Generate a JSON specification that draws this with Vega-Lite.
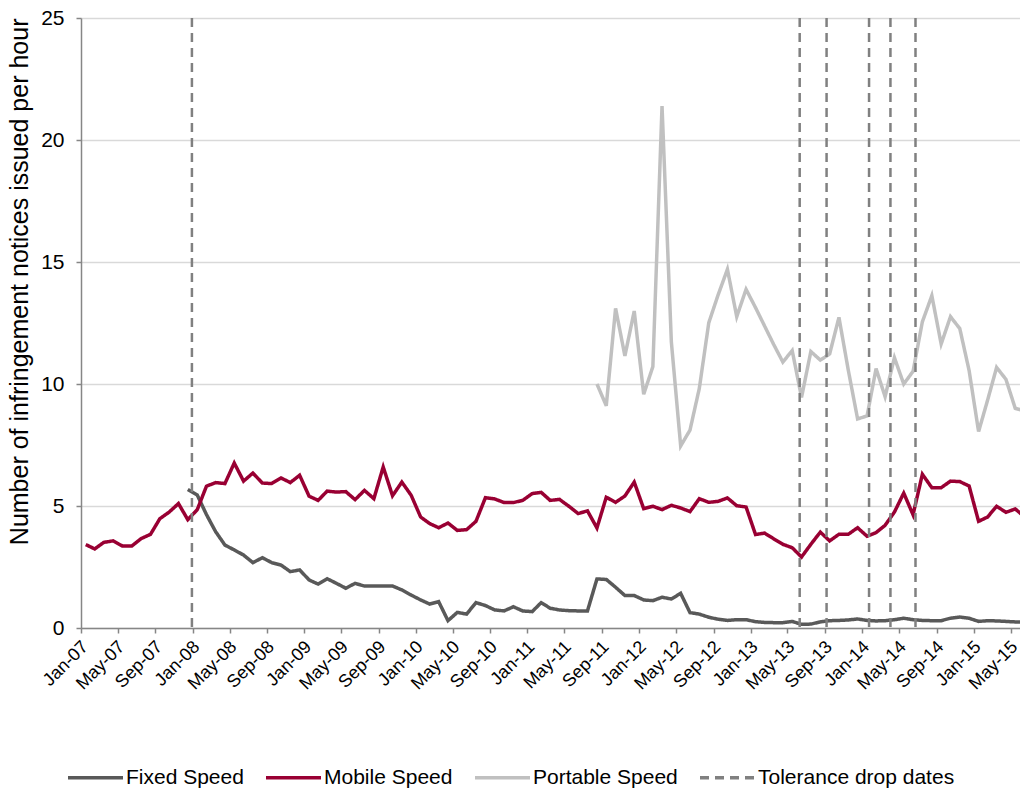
{
  "$schema": "https://vega.github.io/schema/vega-lite/v6.json",
  "width": 939,
  "height": 610,
  "autosize": "none",
  "padding": {"left": 81, "top": 18, "right": 0, "bottom": 164},
  "background": "white",
  "config": {
    "font": "Liberation Sans",
    "view": {"stroke": null},
    "axis": {"labelColor": "#000000", "titleColor": "#000000", "domainColor": "#868686", "tickColor": "#868686", "domainWidth": 1.5, "tickWidth": 1.5, "tickSize": 5}
  },
  "datasets": {
    "lines": [
      {"series":"Fixed Speed","date":"2007-12-01","value":5.68},
      {"series":"Fixed Speed","date":"2008-01-01","value":5.45},{"series":"Fixed Speed","date":"2008-02-01","value":4.65},{"series":"Fixed Speed","date":"2008-03-01","value":3.95},{"series":"Fixed Speed","date":"2008-04-01","value":3.40},{"series":"Fixed Speed","date":"2008-05-01","value":3.20},{"series":"Fixed Speed","date":"2008-06-01","value":2.99},{"series":"Fixed Speed","date":"2008-07-01","value":2.68},{"series":"Fixed Speed","date":"2008-08-01","value":2.88},{"series":"Fixed Speed","date":"2008-09-01","value":2.68},{"series":"Fixed Speed","date":"2008-10-01","value":2.58},{"series":"Fixed Speed","date":"2008-11-01","value":2.31},{"series":"Fixed Speed","date":"2008-12-01","value":2.38},
      {"series":"Fixed Speed","date":"2009-01-01","value":1.97},{"series":"Fixed Speed","date":"2009-02-01","value":1.80},{"series":"Fixed Speed","date":"2009-03-01","value":2.02},{"series":"Fixed Speed","date":"2009-04-01","value":1.83},{"series":"Fixed Speed","date":"2009-05-01","value":1.63},{"series":"Fixed Speed","date":"2009-06-01","value":1.83},{"series":"Fixed Speed","date":"2009-07-01","value":1.72},{"series":"Fixed Speed","date":"2009-08-01","value":1.72},{"series":"Fixed Speed","date":"2009-09-01","value":1.72},{"series":"Fixed Speed","date":"2009-10-01","value":1.72},{"series":"Fixed Speed","date":"2009-11-01","value":1.56},{"series":"Fixed Speed","date":"2009-12-01","value":1.35},
      {"series":"Fixed Speed","date":"2010-01-01","value":1.15},{"series":"Fixed Speed","date":"2010-02-01","value":0.98},{"series":"Fixed Speed","date":"2010-03-01","value":1.08},{"series":"Fixed Speed","date":"2010-04-01","value":0.30},{"series":"Fixed Speed","date":"2010-05-01","value":0.64},{"series":"Fixed Speed","date":"2010-06-01","value":0.57},{"series":"Fixed Speed","date":"2010-07-01","value":1.04},{"series":"Fixed Speed","date":"2010-08-01","value":0.92},{"series":"Fixed Speed","date":"2010-09-01","value":0.74},{"series":"Fixed Speed","date":"2010-10-01","value":0.70},{"series":"Fixed Speed","date":"2010-11-01","value":0.87},{"series":"Fixed Speed","date":"2010-12-01","value":0.70},
      {"series":"Fixed Speed","date":"2011-01-01","value":0.67},{"series":"Fixed Speed","date":"2011-02-01","value":1.04},{"series":"Fixed Speed","date":"2011-03-01","value":0.81},{"series":"Fixed Speed","date":"2011-04-01","value":0.74},{"series":"Fixed Speed","date":"2011-05-01","value":0.71},{"series":"Fixed Speed","date":"2011-06-01","value":0.70},{"series":"Fixed Speed","date":"2011-07-01","value":0.70},{"series":"Fixed Speed","date":"2011-08-01","value":2.01},{"series":"Fixed Speed","date":"2011-09-01","value":1.99},{"series":"Fixed Speed","date":"2011-10-01","value":1.67},{"series":"Fixed Speed","date":"2011-11-01","value":1.33},{"series":"Fixed Speed","date":"2011-12-01","value":1.33},
      {"series":"Fixed Speed","date":"2012-01-01","value":1.15},{"series":"Fixed Speed","date":"2012-02-01","value":1.12},{"series":"Fixed Speed","date":"2012-03-01","value":1.26},{"series":"Fixed Speed","date":"2012-04-01","value":1.19},{"series":"Fixed Speed","date":"2012-05-01","value":1.42},{"series":"Fixed Speed","date":"2012-06-01","value":0.63},{"series":"Fixed Speed","date":"2012-07-01","value":0.57},{"series":"Fixed Speed","date":"2012-08-01","value":0.44},{"series":"Fixed Speed","date":"2012-09-01","value":0.36},{"series":"Fixed Speed","date":"2012-10-01","value":0.31},{"series":"Fixed Speed","date":"2012-11-01","value":0.34},{"series":"Fixed Speed","date":"2012-12-01","value":0.34},
      {"series":"Fixed Speed","date":"2013-01-01","value":0.26},{"series":"Fixed Speed","date":"2013-02-01","value":0.23},{"series":"Fixed Speed","date":"2013-03-01","value":0.22},{"series":"Fixed Speed","date":"2013-04-01","value":0.22},{"series":"Fixed Speed","date":"2013-05-01","value":0.27},{"series":"Fixed Speed","date":"2013-06-01","value":0.15},{"series":"Fixed Speed","date":"2013-07-01","value":0.16},{"series":"Fixed Speed","date":"2013-08-01","value":0.25},{"series":"Fixed Speed","date":"2013-09-01","value":0.30},{"series":"Fixed Speed","date":"2013-10-01","value":0.31},{"series":"Fixed Speed","date":"2013-11-01","value":0.33},{"series":"Fixed Speed","date":"2013-12-01","value":0.37},
      {"series":"Fixed Speed","date":"2014-01-01","value":0.31},{"series":"Fixed Speed","date":"2014-02-01","value":0.29},{"series":"Fixed Speed","date":"2014-03-01","value":0.30},{"series":"Fixed Speed","date":"2014-04-01","value":0.34},{"series":"Fixed Speed","date":"2014-05-01","value":0.40},{"series":"Fixed Speed","date":"2014-06-01","value":0.34},{"series":"Fixed Speed","date":"2014-07-01","value":0.31},{"series":"Fixed Speed","date":"2014-08-01","value":0.30},{"series":"Fixed Speed","date":"2014-09-01","value":0.30},{"series":"Fixed Speed","date":"2014-10-01","value":0.40},{"series":"Fixed Speed","date":"2014-11-01","value":0.45},{"series":"Fixed Speed","date":"2014-12-01","value":0.40},
      {"series":"Fixed Speed","date":"2015-01-01","value":0.27},{"series":"Fixed Speed","date":"2015-02-01","value":0.30},{"series":"Fixed Speed","date":"2015-03-01","value":0.29},{"series":"Fixed Speed","date":"2015-04-01","value":0.27},{"series":"Fixed Speed","date":"2015-05-01","value":0.25},{"series":"Fixed Speed","date":"2015-06-01","value":0.25},

      {"series":"Mobile Speed","date":"2007-01-01","value":3.42},{"series":"Mobile Speed","date":"2007-02-01","value":3.24},{"series":"Mobile Speed","date":"2007-03-01","value":3.51},{"series":"Mobile Speed","date":"2007-04-01","value":3.57},{"series":"Mobile Speed","date":"2007-05-01","value":3.36},{"series":"Mobile Speed","date":"2007-06-01","value":3.36},{"series":"Mobile Speed","date":"2007-07-01","value":3.66},{"series":"Mobile Speed","date":"2007-08-01","value":3.84},{"series":"Mobile Speed","date":"2007-09-01","value":4.48},{"series":"Mobile Speed","date":"2007-10-01","value":4.75},{"series":"Mobile Speed","date":"2007-11-01","value":5.10},{"series":"Mobile Speed","date":"2007-12-01","value":4.44},
      {"series":"Mobile Speed","date":"2008-01-01","value":4.85},{"series":"Mobile Speed","date":"2008-02-01","value":5.81},{"series":"Mobile Speed","date":"2008-03-01","value":5.96},{"series":"Mobile Speed","date":"2008-04-01","value":5.92},{"series":"Mobile Speed","date":"2008-05-01","value":6.76},{"series":"Mobile Speed","date":"2008-06-01","value":6.02},{"series":"Mobile Speed","date":"2008-07-01","value":6.35},{"series":"Mobile Speed","date":"2008-08-01","value":5.94},{"series":"Mobile Speed","date":"2008-09-01","value":5.92},{"series":"Mobile Speed","date":"2008-10-01","value":6.15},{"series":"Mobile Speed","date":"2008-11-01","value":5.96},{"series":"Mobile Speed","date":"2008-12-01","value":6.26},
      {"series":"Mobile Speed","date":"2009-01-01","value":5.40},{"series":"Mobile Speed","date":"2009-02-01","value":5.23},{"series":"Mobile Speed","date":"2009-03-01","value":5.61},{"series":"Mobile Speed","date":"2009-04-01","value":5.57},{"series":"Mobile Speed","date":"2009-05-01","value":5.59},{"series":"Mobile Speed","date":"2009-06-01","value":5.26},{"series":"Mobile Speed","date":"2009-07-01","value":5.64},{"series":"Mobile Speed","date":"2009-08-01","value":5.30},{"series":"Mobile Speed","date":"2009-09-01","value":6.60},{"series":"Mobile Speed","date":"2009-10-01","value":5.42},{"series":"Mobile Speed","date":"2009-11-01","value":5.98},{"series":"Mobile Speed","date":"2009-12-01","value":5.44},
      {"series":"Mobile Speed","date":"2010-01-01","value":4.55},{"series":"Mobile Speed","date":"2010-02-01","value":4.28},{"series":"Mobile Speed","date":"2010-03-01","value":4.11},{"series":"Mobile Speed","date":"2010-04-01","value":4.30},{"series":"Mobile Speed","date":"2010-05-01","value":4.00},{"series":"Mobile Speed","date":"2010-06-01","value":4.03},{"series":"Mobile Speed","date":"2010-07-01","value":4.37},{"series":"Mobile Speed","date":"2010-08-01","value":5.34},{"series":"Mobile Speed","date":"2010-09-01","value":5.29},{"series":"Mobile Speed","date":"2010-10-01","value":5.14},{"series":"Mobile Speed","date":"2010-11-01","value":5.14},{"series":"Mobile Speed","date":"2010-12-01","value":5.23},
      {"series":"Mobile Speed","date":"2011-01-01","value":5.51},{"series":"Mobile Speed","date":"2011-02-01","value":5.56},{"series":"Mobile Speed","date":"2011-03-01","value":5.23},{"series":"Mobile Speed","date":"2011-04-01","value":5.27},{"series":"Mobile Speed","date":"2011-05-01","value":4.99},{"series":"Mobile Speed","date":"2011-06-01","value":4.69},{"series":"Mobile Speed","date":"2011-07-01","value":4.80},{"series":"Mobile Speed","date":"2011-08-01","value":4.10},{"series":"Mobile Speed","date":"2011-09-01","value":5.36},{"series":"Mobile Speed","date":"2011-10-01","value":5.15},{"series":"Mobile Speed","date":"2011-11-01","value":5.41},{"series":"Mobile Speed","date":"2011-12-01","value":5.98},
      {"series":"Mobile Speed","date":"2012-01-01","value":4.89},{"series":"Mobile Speed","date":"2012-02-01","value":4.99},{"series":"Mobile Speed","date":"2012-03-01","value":4.85},{"series":"Mobile Speed","date":"2012-04-01","value":5.03},{"series":"Mobile Speed","date":"2012-05-01","value":4.92},{"series":"Mobile Speed","date":"2012-06-01","value":4.77},{"series":"Mobile Speed","date":"2012-07-01","value":5.30},{"series":"Mobile Speed","date":"2012-08-01","value":5.15},{"series":"Mobile Speed","date":"2012-09-01","value":5.19},{"series":"Mobile Speed","date":"2012-10-01","value":5.33},{"series":"Mobile Speed","date":"2012-11-01","value":5.01},{"series":"Mobile Speed","date":"2012-12-01","value":4.96},
      {"series":"Mobile Speed","date":"2013-01-01","value":3.83},{"series":"Mobile Speed","date":"2013-02-01","value":3.89},{"series":"Mobile Speed","date":"2013-03-01","value":3.66},{"series":"Mobile Speed","date":"2013-04-01","value":3.43},{"series":"Mobile Speed","date":"2013-05-01","value":3.29},{"series":"Mobile Speed","date":"2013-06-01","value":2.91},{"series":"Mobile Speed","date":"2013-07-01","value":3.43},{"series":"Mobile Speed","date":"2013-08-01","value":3.93},{"series":"Mobile Speed","date":"2013-09-01","value":3.57},{"series":"Mobile Speed","date":"2013-10-01","value":3.84},{"series":"Mobile Speed","date":"2013-11-01","value":3.84},{"series":"Mobile Speed","date":"2013-12-01","value":4.11},
      {"series":"Mobile Speed","date":"2014-01-01","value":3.76},{"series":"Mobile Speed","date":"2014-02-01","value":3.91},{"series":"Mobile Speed","date":"2014-03-01","value":4.21},{"series":"Mobile Speed","date":"2014-04-01","value":4.75},{"series":"Mobile Speed","date":"2014-05-01","value":5.53},{"series":"Mobile Speed","date":"2014-06-01","value":4.64},{"series":"Mobile Speed","date":"2014-07-01","value":6.30},{"series":"Mobile Speed","date":"2014-08-01","value":5.75},{"series":"Mobile Speed","date":"2014-09-01","value":5.75},{"series":"Mobile Speed","date":"2014-10-01","value":6.02},{"series":"Mobile Speed","date":"2014-11-01","value":6.00},{"series":"Mobile Speed","date":"2014-12-01","value":5.82},
      {"series":"Mobile Speed","date":"2015-01-01","value":4.37},{"series":"Mobile Speed","date":"2015-02-01","value":4.55},{"series":"Mobile Speed","date":"2015-03-01","value":4.99},{"series":"Mobile Speed","date":"2015-04-01","value":4.74},{"series":"Mobile Speed","date":"2015-05-01","value":4.88},{"series":"Mobile Speed","date":"2015-06-01","value":4.55},

      {"series":"Portable Speed","date":"2011-08-01","value":10.00},{"series":"Portable Speed","date":"2011-09-01","value":9.11},{"series":"Portable Speed","date":"2011-10-01","value":13.10},{"series":"Portable Speed","date":"2011-11-01","value":11.15},{"series":"Portable Speed","date":"2011-12-01","value":12.99},
      {"series":"Portable Speed","date":"2012-01-01","value":9.58},{"series":"Portable Speed","date":"2012-02-01","value":10.71},{"series":"Portable Speed","date":"2012-03-01","value":21.39},{"series":"Portable Speed","date":"2012-04-01","value":11.73},{"series":"Portable Speed","date":"2012-05-01","value":7.46},{"series":"Portable Speed","date":"2012-06-01","value":8.11},{"series":"Portable Speed","date":"2012-07-01","value":9.82},{"series":"Portable Speed","date":"2012-08-01","value":12.51},{"series":"Portable Speed","date":"2012-09-01","value":13.65},{"series":"Portable Speed","date":"2012-10-01","value":14.70},{"series":"Portable Speed","date":"2012-11-01","value":12.76},{"series":"Portable Speed","date":"2012-12-01","value":13.88},
      {"series":"Portable Speed","date":"2013-01-01","value":13.13},{"series":"Portable Speed","date":"2013-02-01","value":12.38},{"series":"Portable Speed","date":"2013-03-01","value":11.63},{"series":"Portable Speed","date":"2013-04-01","value":10.90},{"series":"Portable Speed","date":"2013-05-01","value":11.37},{"series":"Portable Speed","date":"2013-06-01","value":9.45},{"series":"Portable Speed","date":"2013-07-01","value":11.33},{"series":"Portable Speed","date":"2013-08-01","value":10.98},{"series":"Portable Speed","date":"2013-09-01","value":11.23},{"series":"Portable Speed","date":"2013-10-01","value":12.73},{"series":"Portable Speed","date":"2013-11-01","value":10.57},{"series":"Portable Speed","date":"2013-12-01","value":8.57},
      {"series":"Portable Speed","date":"2014-01-01","value":8.69},{"series":"Portable Speed","date":"2014-02-01","value":10.63},{"series":"Portable Speed","date":"2014-03-01","value":9.48},{"series":"Portable Speed","date":"2014-04-01","value":11.08},{"series":"Portable Speed","date":"2014-05-01","value":10.00},{"series":"Portable Speed","date":"2014-06-01","value":10.52},{"series":"Portable Speed","date":"2014-07-01","value":12.55},{"series":"Portable Speed","date":"2014-08-01","value":13.62},{"series":"Portable Speed","date":"2014-09-01","value":11.64},{"series":"Portable Speed","date":"2014-10-01","value":12.76},{"series":"Portable Speed","date":"2014-11-01","value":12.27},{"series":"Portable Speed","date":"2014-12-01","value":10.55},
      {"series":"Portable Speed","date":"2015-01-01","value":8.05},{"series":"Portable Speed","date":"2015-02-01","value":9.34},{"series":"Portable Speed","date":"2015-03-01","value":10.68},{"series":"Portable Speed","date":"2015-04-01","value":10.19},{"series":"Portable Speed","date":"2015-05-01","value":9.00},{"series":"Portable Speed","date":"2015-06-01","value":8.90}
    ],
    "drops": [
      {"series":"Tolerance drop dates","date":"2007-12-30"},
      {"series":"Tolerance drop dates","date":"2013-06-10"},
      {"series":"Tolerance drop dates","date":"2013-09-06"},
      {"series":"Tolerance drop dates","date":"2014-01-23"},
      {"series":"Tolerance drop dates","date":"2014-04-03"},
      {"series":"Tolerance drop dates","date":"2014-06-24"}
    ]
  },
  "layer": [
    {
      "data": {"name": "lines"},
      "mark": {"type": "line", "strokeWidth": 3.5, "clip": true, "strokeJoin": "miter"},
      "encoding": {
        "x": {
          "field": "date", "timeUnit": "yearmonth", "type": "temporal", "bandPosition": 0.5,
          "scale": {"domain": [{"year": 2007, "month": 1, "date": 1}, {"year": 2015, "month": 6, "date": 1}], "nice": false},
          "axis": {"title": null, "format": "%b-%y", "tickCount": {"interval": "month", "step": 4}, "labelAngle": -45, "labelAlign": "right", "labelBaseline": "middle", "labelFontSize": 18, "labelPadding": 11, "labelOffset": 4, "labelOverlap": false, "labelFlush": false, "grid": false}
        },
        "y": {
          "field": "value", "type": "quantitative",
          "scale": {"domain": [0, 25], "nice": false},
          "axis": {"values": [0, 5, 10, 15, 20, 25], "grid": true, "gridColor": "#d9d9d9", "gridWidth": 1.3, "labelFontSize": 21, "labelPadding": 12, "title": "Number of infringement notices issued per hour", "titleFontSize": 25, "titleFontWeight": "normal", "titleAnchor": "end", "titlePadding": 8}
        },
        "color": {
          "field": "series", "type": "nominal",
          "scale": {"domain": ["Fixed Speed", "Mobile Speed", "Portable Speed", "Tolerance drop dates"], "range": ["#595959", "#990033", "#c0c0c0", "#808080"]},
          "legend": {"orient": "none", "legendX": -15, "legendY": 730, "direction": "horizontal", "title": null, "symbolType": "stroke", "symbolSize": 3025, "symbolStrokeWidth": 3.5, "labelFontSize": 21, "labelColor": "#000000", "labelOffset": 1, "labelLimit": 400, "columnPadding": 15, "padding": 0}
        },
        "strokeDash": {
          "field": "series", "type": "nominal",
          "scale": {"domain": ["Fixed Speed", "Mobile Speed", "Portable Speed", "Tolerance drop dates"], "range": [[1, 0], [1, 0], [1, 0], [9, 6]]},
          "legend": {"orient": "none", "legendX": -15, "legendY": 730, "direction": "horizontal", "title": null, "symbolType": "stroke", "symbolSize": 3025, "symbolStrokeWidth": 3.5, "labelFontSize": 21, "labelColor": "#000000", "labelOffset": 1, "labelLimit": 400, "columnPadding": 15, "padding": 0}
        }
      }
    },
    {
      "data": {"name": "drops"},
      "mark": {"type": "rule", "strokeWidth": 2.5},
      "encoding": {
        "x": {"field": "date", "type": "temporal"},
        "color": {"field": "series", "type": "nominal"},
        "strokeDash": {"field": "series", "type": "nominal"}
      }
    }
  ]
}
